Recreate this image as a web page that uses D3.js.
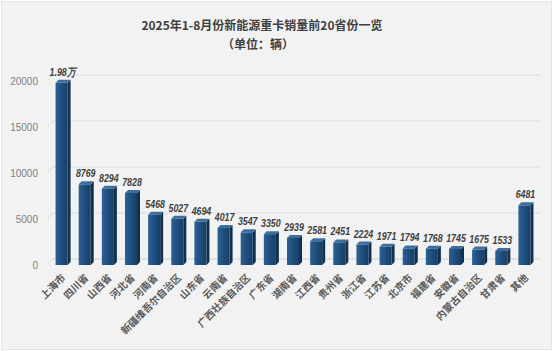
<!DOCTYPE html>
<html>
<head>
<meta charset="utf-8">
<script src="https://cdn.jsdelivr.net/npm/d3@7"></script>
<style>
  html, body { margin: 0; padding: 0; background: #fff; }
  svg { display: block; font-family: "Noto Sans CJK SC", "Noto Sans", sans-serif; }
</style>
</head>
<body>
<script>
const provinces = ["上海市", "四川省", "山西省", "河北省", "河南省", "新疆维吾尔自治区", "山东省", "云南省",
  "广西壮族自治区", "广东省", "湖南省", "江西省", "贵州省", "浙江省", "江苏省", "北京市",
  "福建省", "安徽省", "内蒙古自治区", "甘肃省", "其他"]
const sales = [19800, 8769, 8294, 7828, 5468, 5027, 4694, 4017, 3547, 3350, 2939, 2581, 2451, 2224, 1971, 1794,
  1768, 1745, 1675, 1533, 6481]
const valueLabels = ["1.98万", "8769", "8294", "7828", "5468", "5027", "4694", "4017", "3547", "3350", "2939",
  "2581", "2451", "2224", "1971", "1794", "1768", "1745", "1675", "1533", "6481"]
const yTicks = [0, 5000, 10000, 15000, 20000]

const width = 553, height = 351

const svg = d3.select("body").append("svg")
  .attr("width", width)
  .attr("height", height)

// panel background
svg.append("rect")
  .attr("x", 1.5).attr("y", 1.5)
  .attr("width", width - 3).attr("height", height - 3)
  .attr("fill", "#f2f2f2")
  .attr("stroke", "#e4e4e4")

const x = d3.scaleBand()
  .domain(provinces)
  .range([50, 536])
  .paddingInner(0.48)
  .paddingOuter(0.24)

const y = d3.scaleLinear()
  .domain([0, 20000])
  .range([265, 81])

// back wall offset (3d look)
const dx = 6, dy = -6

// gridlines
const grid = svg.append("g")
grid.selectAll("line.h")
  .data(yTicks)
  .join("line")
  .attr("x1", 47 + dx).attr("x2", 540)
  .attr("y1", d => y(d) + dy).attr("y2", d => y(d) + dy)
  .attr("stroke", d => d === 0 ? "#d0d0d0" : "#dcdcdc")
  .attr("stroke-width", 1)
grid.selectAll("line.d")
  .data(yTicks)
  .join("line")
  .attr("x1", 47).attr("x2", 47 + dx)
  .attr("y1", d => y(d)).attr("y2", d => y(d) + dy)
  .attr("stroke", "#dcdcdc")

// y labels
svg.append("g")
  .selectAll("text")
  .data(yTicks)
  .join("text")
  .attr("x", 38)
  .attr("y", d => y(d))
  .attr("dy", "0.35em")
  .attr("text-anchor", "end")
  .attr("fill", "#7f7f7f")
  .attr("font-size", 10)
  .attr("font-family", "Liberation Sans, Arial, sans-serif")
  .text(d => d)

// gradient for bar front
const defs = svg.append("defs")
const grad = defs.append("linearGradient").attr("id", "front")
grad.append("stop").attr("offset", "0%").attr("stop-color", "#2c6196")
grad.append("stop").attr("offset", "45%").attr("stop-color", "#1f5080")
grad.append("stop").attr("offset", "100%").attr("stop-color", "#173f66")

const bw = x.bandwidth()
const sd = 3
const bars = svg.append("g")
  .selectAll("g")
  .data(provinces.map((p, i) => ({p, v: sales[i], lab: valueLabels[i]})))
  .join("g")

bars.append("path")
  .attr("fill", "#10304f")
  .attr("d", d => {
    const x0 = x(d.p) + bw, yt = y(d.v), yb = y(0)
    return `M${x0},${yt}L${x0 + sd},${yt - sd}L${x0 + sd},${yb - sd}L${x0},${yb}Z`
  })
bars.append("path")
  .attr("fill", "#3d6f9e")
  .attr("d", d => {
    const x0 = x(d.p), yt = y(d.v)
    return `M${x0},${yt}L${x0 + sd},${yt - sd}L${x0 + bw + sd},${yt - sd}L${x0 + bw},${yt}Z`
  })
bars.append("rect")
  .attr("x", d => x(d.p))
  .attr("y", d => y(d.v))
  .attr("width", bw)
  .attr("height", d => y(0) - y(d.v))
  .attr("fill", "url(#front)")

// value labels (condensed like the original)
bars.append("text")
  .attr("transform", d => `translate(${x(d.p) + bw / 2 + 1},${y(d.v) - 7}) scale(0.8,1)`)
  .attr("text-anchor", "middle")
  .attr("fill", "#404040")
  .attr("font-size", 11)
  .attr("font-weight", "bold")
  .attr("font-style", "italic")
  .attr("font-family", "'Liberation Sans', Arial, sans-serif")
  .text(d => d.lab)

// category labels
svg.append("g")
  .selectAll("text")
  .data(provinces)
  .join("text")
  .attr("transform", d => `translate(${x(d) + bw / 2 + 2},${276}) rotate(-45)`)
  .attr("text-anchor", "end")
  .attr("dy", "0.35em")
  .attr("fill", "#595959")
  .attr("font-size", 10)
  .attr("font-weight", "bold")
  .text(d => d)

// title
svg.append("text")
  .attr("x", 262).attr("y", 30)
  .attr("text-anchor", "middle")
  .attr("fill", "#404040")
  .attr("font-size", 12)
  .attr("font-weight", "bold")
  .text("2025年1-8月份新能源重卡销量前20省份一览")
svg.append("text")
  .attr("x", 258).attr("y", 49)
  .attr("text-anchor", "middle")
  .attr("fill", "#404040")
  .attr("font-size", 12)
  .attr("font-weight", "bold")
  .text("（单位：辆）")
</script>
</body>
</html>
